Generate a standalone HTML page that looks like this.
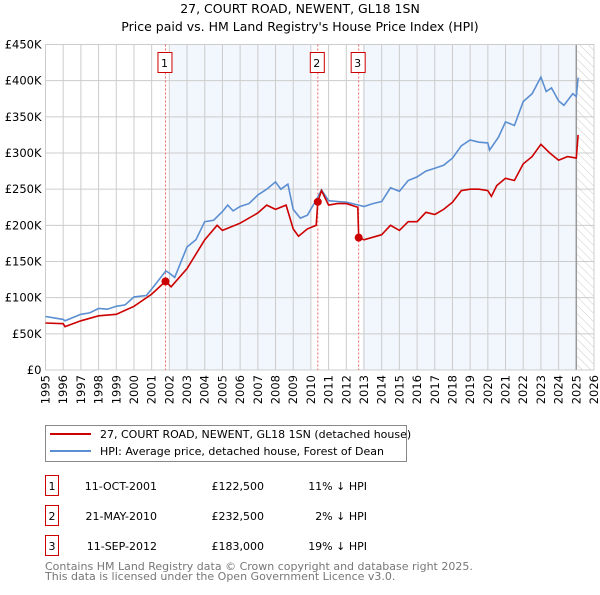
<!DOCTYPE html>
<html><head><meta charset="utf-8"><style>
body{margin:0;background:#fff;font-family:"Liberation Sans","DejaVu Sans",sans-serif}
svg text{font-family:"DejaVu Sans","Liberation Sans",sans-serif}
</style></head><body>
<svg id="c" width="600" height="590" xmlns="http://www.w3.org/2000/svg">
<defs><pattern id="hatch" width="6" height="6" patternUnits="userSpaceOnUse" patternTransform="rotate(-45)"><line x1="0" y1="0" x2="0" y2="6" stroke="#ccc" stroke-width="1"/></pattern></defs>
<text x="300" y="13" text-anchor="middle" font-size="12.5">27, COURT ROAD, NEWENT, GL18 1SN</text>
<text x="300" y="31" text-anchor="middle" font-size="12.5">Price paid vs. HM Land Registry's House Price Index (HPI)</text>
<g id="plot"></g>
<g>
<rect x="45.5" y="425.5" width="361" height="36" fill="#fff" stroke="#888"/>
<line x1="50" y1="434" x2="91" y2="434" stroke="#cc0000" stroke-width="2"/>
<text x="100" y="438" font-size="11">27, COURT ROAD, NEWENT, GL18 1SN (detached house)</text>
<line x1="50" y1="451" x2="91" y2="451" stroke="#5b8fd1" stroke-width="2"/>
<text x="100" y="455" font-size="11">HPI: Average price, detached house, Forest of Dean</text>
</g>
<g font-size="11">
<rect x="45.5" y="475.5" width="13" height="20" fill="#fff" stroke="#cc0000"/><text x="52" y="490" text-anchor="middle">1</text>
<text x="157" y="490" text-anchor="end">11-OCT-2001</text><text x="264" y="490" text-anchor="end">£122,500</text><text x="367" y="490" text-anchor="end">11% ↓ HPI</text>
<rect x="45.5" y="505.5" width="13" height="20" fill="#fff" stroke="#cc0000"/><text x="52" y="520" text-anchor="middle">2</text>
<text x="157" y="520" text-anchor="end">21-MAY-2010</text><text x="264" y="520" text-anchor="end">£232,500</text><text x="367" y="520" text-anchor="end">2% ↓ HPI</text>
<rect x="45.5" y="535.5" width="13" height="20" fill="#fff" stroke="#cc0000"/><text x="52" y="550" text-anchor="middle">3</text>
<text x="157" y="550" text-anchor="end">11-SEP-2012</text><text x="264" y="550" text-anchor="end">£183,000</text><text x="367" y="550" text-anchor="end">19% ↓ HPI</text>
</g>
<text x="45" y="570" font-size="11" fill="#777">Contains HM Land Registry data © Crown copyright and database right 2025.</text>
<text x="45" y="580" font-size="11" fill="#777">This data is licensed under the Open Government Licence v3.0.</text>
</svg>
<script>
const hpiDates=[1995,1995.5,1996,1996.1,1997,1997.5,1998,1998.5,1999,1999.5,2000,2000.7,2001.2,2001.8,2002,2002.3,2003,2003.5,2004,2004.5,2005,2005.3,2005.6,2006,2006.5,2007,2007.5,2008,2008.3,2008.7,2009,2009.4,2009.8,2010.3,2010.6,2011,2011.5,2012,2012.7,2013,2013.5,2014,2014.5,2015,2015.5,2016,2016.5,2017,2017.5,2018,2018.5,2019,2019.5,2020,2020.1,2020.6,2021,2021.5,2022,2022.5,2023,2023.3,2023.6,2024,2024.3,2024.8,2025,2025.1];
const hpiValues=[74000,72000,70000,68000,77000,79000,85000,84000,88000,90000,101000,103000,118000,137000,134000,128000,170000,180000,205000,207000,219000,228000,220000,226000,230000,242000,250000,260000,250000,257000,222000,210000,214000,235000,249000,234000,233000,232000,228000,226000,230000,233000,252000,247000,262000,267000,275000,279000,283000,293000,310000,318000,315000,314000,304000,322000,343000,338000,371000,382000,405000,385000,390000,372000,366000,382000,378000,404000];
const ppDates=[1995,1996,1996.1,1997,1998,1999,2000,2001,2001.78,2002.1,2003,2004,2004.7,2005,2006,2007,2007.5,2008,2008.6,2009,2009.3,2009.8,2010.3,2010.39,2010.6,2011,2011.5,2012,2012.65,2012.7,2013,2014,2014.5,2015,2015.5,2016,2016.5,2017,2017.5,2018,2018.5,2019,2019.5,2020,2020.2,2020.5,2021,2021.5,2022,2022.5,2023,2023.5,2024,2024.5,2025,2025.1];
const ppValues=[65000,64000,60000,68000,75000,77000,88000,105000,122500,115000,140000,180000,200000,193000,203000,217000,228000,222000,228000,195000,185000,195000,200000,232500,248000,228000,230000,230000,225000,183000,180000,187000,200000,193000,205000,205000,218000,215000,222000,232000,248000,250000,250000,248000,240000,255000,265000,262000,285000,295000,312000,300000,290000,295000,293000,325000];
const saleDates=[2001.78,2010.39,2012.7];
const saleValues=[122500,232500,183000];
const saleLabels=["1","2","3"];
const yTicks=[0,50000,100000,150000,200000,250000,300000,350000,400000,450000];
const yTickLabels=["£0","£50K","£100K","£150K","£200K","£250K","£300K","£350K","£400K","£450K"];
const xYears=[];for(let y=1995;y<=2026;y++)xYears.push(y);

const X0=45.5,X1=594,Y0=370,Y1=44.5;
const xs=t=>X0+(t-1995)/31*(X1-X0);
const ys=v=>Y0-v/450000*(Y0-Y1);
const NS="http://www.w3.org/2000/svg";
const g=document.getElementById('plot');
function mk(tag,attrs,parent){const e=document.createElementNS(NS,tag);for(const k in attrs)e.setAttribute(k,attrs[k]);(parent||g).appendChild(e);return e;}
// shading
let r=mk('rect',{x:xs(2002.05),y:Y1,width:xs(2010)-xs(2002.05),height:Y0-Y1,fill:'#f2f6fd'});


r=mk('rect',{x:xs(2012.95),y:Y1,width:xs(2025)-xs(2012.95),height:Y0-Y1,fill:'#f2f6fd'});


r=mk('rect',{x:xs(2025.05),y:Y1,width:X1-xs(2025.05),height:Y0-Y1,fill:'url(#hatch)'});


// grid
yTicks.forEach((v,i)=>{
 const l=mk('line',{x1:X0,x2:X1,y1:ys(v),y2:ys(v),stroke:'#ccc'});
 
 
 const t=mk('text',{x:X0-4,y:ys(v)+4,'text-anchor':'end','font-size':'11.5'});t.textContent=yTickLabels[i];
 
 
});
xYears.forEach(y=>{
 const l=mk('line',{x1:xs(y),x2:xs(y),y1:Y1,y2:Y0,stroke:'#ccc'});
 
 
 const t=mk('text',{x:0,y:0,'text-anchor':'end','font-size':'11.5',transform:`translate(${xs(y)+4},${Y0+5}) rotate(-90)`});t.textContent=y;
 
 
});
const vl=mk('line',{x1:xs(2025),x2:xs(2025),y1:Y1,y2:Y0,stroke:'#999','stroke-width':1.5});


const border=mk('rect',{x:X0,y:Y1,width:X1-X0,height:Y0-Y1,fill:'none',stroke:'#ccc'});


// sale markers
saleDates.forEach((d,i)=>{
 const l=mk('line',{x1:xs(d),x2:xs(d),y1:Y1,y2:Y0,stroke:'#e66','stroke-dasharray':'2,2'});
 
 
 const b=mk('rect',{x:xs(d)-7.5,y:52.5,width:14,height:20,fill:'#fff',stroke:'#cc0000'});
 
 
 const t=mk('text',{x:xs(d)-1,y:67,'text-anchor':'middle','font-size':'11'});t.textContent=saleLabels[i];
 
 
});
function path(dates,vals){return dates.map((d,i)=>(i?'L':'M')+xs(d).toFixed(1)+','+ys(vals[i]).toFixed(1)).join('');}
const hp=mk('path',{d:path(hpiDates,hpiValues),fill:'none',stroke:'#5b8fd1','stroke-width':1.6});


const pp=mk('path',{d:path(ppDates,ppValues),fill:'none',stroke:'#cc0000','stroke-width':1.6});


saleDates.forEach((d,i)=>{
 const c=mk('circle',{cx:xs(d),cy:ys(saleValues[i]),r:4,fill:'#cc0000'});
 
 
});
</script>
</body></html>
